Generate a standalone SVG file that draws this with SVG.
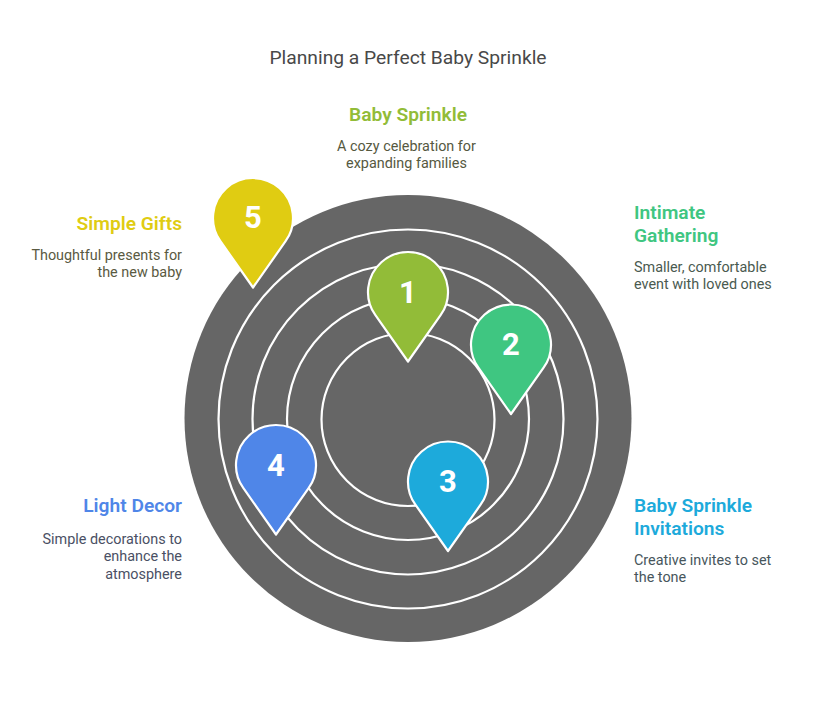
<svg xmlns="http://www.w3.org/2000/svg" width="816" height="713" viewBox="0 0 816 713">
<style>
text{font-family:Roboto,"Liberation Sans",sans-serif}
.t{font-size:19.25px;fill:#484848}
.h{font-size:19.2px;font-weight:600}
.b{font-size:14.4px}
.n{font-size:31px;font-weight:700;fill:#fff;text-anchor:middle}
.e{text-anchor:end}
.m{text-anchor:middle}
.r{fill:none;stroke:#fff;stroke-width:2.2}
.p{stroke:#fff;stroke-width:2.2;stroke-linejoin:round}
</style>
<defs><path id="pin" d="M0 69.500L-32.6 23.200A40 40 0 1 1 32.6 23.200Z"/></defs>
<rect width="816" height="713" fill="#fff"/>
<text class="t m" x="408" y="64">Planning a Perfect Baby Sprinkle</text>
<g id="rings">
<circle cx="408" cy="418.5" r="223.5" fill="#666"/>
<circle class="r" cx="408" cy="419" r="189.5"/>
<circle class="r" cx="408" cy="419" r="155.500"/>
<circle class="r" cx="408" cy="419" r="121"/>
<circle class="r" cx="408" cy="419.500" r="86.500"/>
</g>
<g id="connectors"></g>
<g id="node5"><use class="p" href="#pin" x="253" y="218" fill="#e0cc12"/><text class="n" x="253" y="228">5</text></g>
<g id="node1"><use class="p" href="#pin" x="408" y="292" fill="#92bc38"/><text class="n" x="408" y="303">1</text></g>
<g id="node2"><use class="p" href="#pin" x="511" y="344.500" fill="#3fc681"/><text class="n" x="511" y="355">2</text></g>
<g id="node3"><use class="p" href="#pin" x="448" y="481.500" fill="#1daadb"/><text class="n" x="448" y="492">3</text></g>
<g id="node4"><use class="p" href="#pin" x="276" y="465" fill="#4f86e8"/><text class="n" x="276" y="476">4</text></g>
<g id="label1">
<text class="h m" x="408" y="121" fill="#92bc38">Baby Sprinkle</text>
<text class="b m" x="406.500" y="151" fill="#56593f">A cozy celebration for</text>
<text class="b m" x="406.500" y="168" fill="#56593f">expanding families</text>
</g>
<g id="label2">
<text class="h" x="634" y="219" fill="#3fc681">Intimate</text>
<text class="h" x="634" y="242" fill="#3fc681">Gathering</text>
<text class="b" x="634" y="272" fill="#4a5a50">Smaller, comfortable</text>
<text class="b" x="634" y="289" fill="#4a5a50">event with loved ones</text>
</g>
<g id="label3">
<text class="h" x="634" y="512" fill="#1daadb">Baby Sprinkle</text>
<text class="h" x="634" y="535" fill="#1daadb">Invitations</text>
<text class="b" x="634" y="565" fill="#47565c">Creative invites to set</text>
<text class="b" x="634" y="582" fill="#47565c">the tone</text>
</g>
<g id="label4">
<text class="h e" x="182" y="512" fill="#4f86e8">Light Decor</text>
<text class="b e" x="182" y="544" fill="#4a5064">Simple decorations to</text>
<text class="b e" x="182" y="561" fill="#4a5064">enhance the</text>
<text class="b e" x="182" y="579" fill="#4a5064">atmosphere</text>
</g>
<g id="label5">
<text class="h e" x="182" y="230" fill="#e0cc12">Simple Gifts</text>
<text class="b e" x="182" y="260" fill="#5a5a42">Thoughtful presents for</text>
<text class="b e" x="182" y="277" fill="#5a5a42">the new baby</text>
</g>
</svg>
